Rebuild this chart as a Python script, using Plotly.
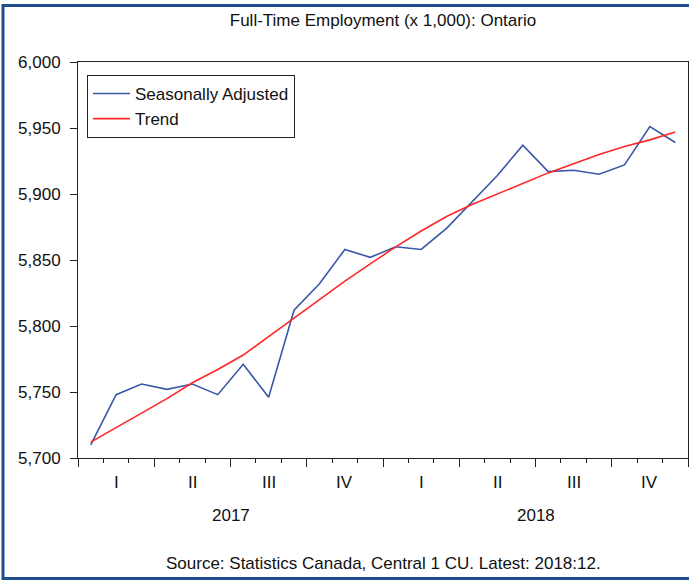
import plotly.graph_objects as go

months = list(range(24))
seasonally_adjusted = [5710, 5748, 5756, 5752, 5756, 5748, 5771, 5746,
                       5812, 5832, 5858, 5852, 5860, 5858, 5874, 5894,
                       5914, 5937, 5917, 5918, 5915, 5922, 5951, 5939]
trend = [5712, 5723, 5734, 5745, 5757, 5767, 5778, 5792,
         5806, 5820, 5834, 5847, 5860, 5872, 5883, 5892,
         5900, 5908, 5916, 5923, 5930, 5936, 5941, 5947]
quarter_labels = ["I", "II", "III", "IV", "I", "II", "III", "IV"]
quarter_centers = [1, 4, 7, 10, 13, 16, 19, 22]
year_labels = ["2017", "2018"]
year_centers = [5.5, 17.5]
y_ticks = [5700, 5750, 5800, 5850, 5900, 5950, 6000]

FONT = "Liberation Sans, Arial, sans-serif"
FS = 17
W, H = 689, 580
L, R, T, B = 78, 1, 62, 122
PW, PH = W - L - R, H - T - B

fig = go.Figure()
fig.add_trace(go.Scatter(x=months, y=seasonally_adjusted, mode="lines",
                         name="Seasonally Adjusted",
                         line=dict(color="#3A57A8", width=1.6)))
fig.add_trace(go.Scatter(x=months, y=trend, mode="lines", name="Trend",
                         line=dict(color="#FF2626", width=1.6)))

annotations = []
for lab, xc in zip(quarter_labels, quarter_centers):
    annotations.append(dict(x=xc, y=-24 / PH, xref="x", yref="paper", text=lab,
                            showarrow=False, xanchor="center", yanchor="middle",
                            font=dict(size=FS, color="#111", family=FONT)))
for lab, xc in zip(year_labels, year_centers):
    annotations.append(dict(x=xc, y=-57 / PH, xref="x", yref="paper", text=lab,
                            showarrow=False, xanchor="center", yanchor="middle",
                            font=dict(size=FS, color="#111", family=FONT)))
annotations.append(dict(x=0.5, y=-105 / PH, xref="paper", yref="paper",
                        text="Source: Statistics Canada, Central 1 CU. Latest: 2018:12.",
                        showarrow=False, xanchor="center", yanchor="middle",
                        font=dict(size=FS, color="#111", family=FONT)))


def px_x(p):
    return (p - L) / PW


def px_y(p):
    return (H - B - p) / PH


border = "#1F4E8C"
shapes = [
    dict(type="line", xref="paper", yref="paper", x0=px_x(3), x1=px_x(3),
         y0=px_y(4), y1=px_y(580), line=dict(color=border, width=3)),
    dict(type="line", xref="paper", yref="paper", x0=px_x(2), x1=px_x(689),
         y0=px_y(5.5), y1=px_y(5.5), line=dict(color=border, width=3)),
    dict(type="line", xref="paper", yref="paper", x0=px_x(2), x1=px_x(689),
         y0=px_y(578.5), y1=px_y(578.5), line=dict(color=border, width=3)),
]

fig.update_layout(
    width=W, height=H,
    margin=dict(l=L, r=R, t=T, b=B, pad=0),
    paper_bgcolor="white", plot_bgcolor="white",
    font=dict(family=FONT, size=FS, color="#111"),
    title=dict(text="Full-Time Employment (x 1,000): Ontario",
               x=0.5, xref="paper", y=1 - 20 / H, yref="container",
               xanchor="center", yanchor="middle",
               font=dict(size=FS, family=FONT, color="#111")),
    showlegend=True,
    legend=dict(x=px_x(87), y=px_y(75), xanchor="left", yanchor="top",
                bordercolor="#222", borderwidth=1, bgcolor="white",
                font=dict(size=FS, family=FONT, color="#111"),
                tracegroupgap=0, itemwidth=37),
    xaxis=dict(range=[-0.5, 23.5], showgrid=False, zeroline=False,
               showline=True, linecolor="#222", linewidth=1, mirror=True,
               tickmode="array", tickvals=[-0.5 + 3 * k for k in range(9)],
               showticklabels=False, ticks="outside", ticklen=8,
               tickcolor="#222", tickwidth=1,
               minor=dict(tickmode="array",
                          tickvals=[-0.5 + k for k in range(25)],
                          ticks="outside", ticklen=4, tickcolor="#222",
                          tickwidth=1, showgrid=False)),
    yaxis=dict(range=[5700, 6000], showgrid=False, zeroline=False,
               showline=True, linecolor="#222", linewidth=1, mirror=True,
               tickmode="array", tickvals=y_ticks, tickformat=",",
               ticks="outside", ticklen=7, tickcolor="#222",
               ticklabelstandoff=6,
               tickfont=dict(size=FS, family=FONT, color="#111")),
    annotations=annotations,
    shapes=shapes,
)

fig.write_html("out.html",
               config={"displayModeBar": False},
               post_script="document.body.style.margin='0';document.body.style.overflow='hidden';")
